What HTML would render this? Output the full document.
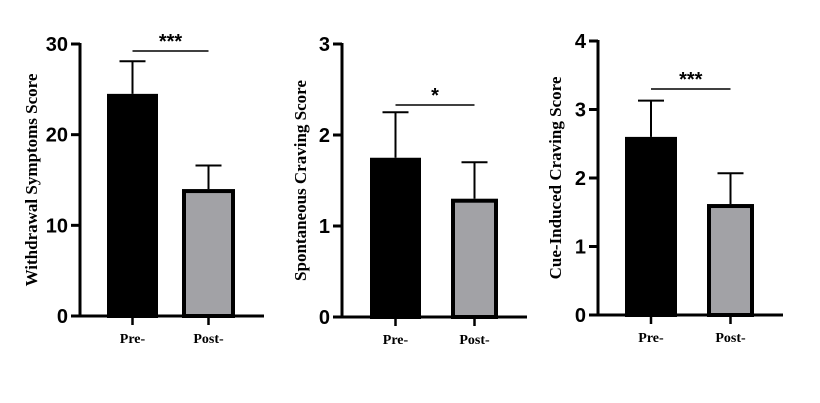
<!DOCTYPE html>
<html><head><meta charset="utf-8"><style>
html,body{margin:0;padding:0;background:#fff;width:820px;height:403px;overflow:hidden}
svg{display:block}
.tk{font-family:"Liberation Sans",Arial,sans-serif;font-weight:bold;font-size:20px}
.cat{font-family:"Liberation Serif",serif;font-weight:bold;font-size:14px}
.yt{font-family:"Liberation Serif",serif;font-weight:bold;font-size:17px}
.st{font-family:"Liberation Sans",sans-serif;font-weight:bold;font-size:20px}
</style></head><body>
<svg id="c" width="820" height="403"></svg>
<script>
const categories=["Pre-","Post-"];
const withdrawalMeans=[24.5,14];
const withdrawalErr=[3.6,2.6];
const withdrawalTicks=[0,10,20,30];
const spontMeans=[1.75,1.3];
const spontErr=[0.5,0.4];
const spontTicks=[0,1,2,3];
const cueMeans=[2.6,1.62];
const cueErr=[0.53,0.45];
const cueTicks=[0,1,2,3,4];
const panels=[
 {name:"withdrawal",title:"Withdrawal Symptoms Score",means:withdrawalMeans,err:withdrawalErr,ticks:withdrawalTicks,sig:"***",ax:80,axEnd:264,top:44,bot:316,titleX:31,bars:[[107,158],[182,235]],sigY:51},
 {name:"spontaneous",title:"Spontaneous Craving Score",means:spontMeans,err:spontErr,ticks:spontTicks,sig:"*",ax:342,axEnd:527,top:44,bot:317,titleX:300,bars:[[370,421],[451,498]],sigY:105},
 {name:"cue-induced",title:"Cue-Induced Craving Score",means:cueMeans,err:cueErr,ticks:cueTicks,sig:"***",ax:598,axEnd:783,top:41,bot:315,titleX:555,bars:[[625,677],[707,754]],sigY:89}
];
const svg=document.getElementById('c');const NS="http://www.w3.org/2000/svg";
function mk(t,a,p){const e=document.createElementNS(NS,t);for(const k in a)e.setAttribute(k,a[k]);(p||svg).appendChild(e);return e;}
panels.forEach(p=>{
 const g=mk('g',{});
 
 
 const max=p.ticks[p.ticks.length-1];
 const y=v=>p.bot-(v/max)*(p.bot-p.top);
 // bars
 p.means.forEach((m,i)=>{
  const [x0,x1]=p.bars[i];const cx=(x0+x1)/2;
  const e=mk('line',{x1:cx,x2:cx,y1:y(m),y2:y(m+p.err[i]),stroke:'#000','stroke-width':2},g);
  
  
  const cap=mk('line',{x1:cx-13,x2:cx+13,y1:y(m+p.err[i]),y2:y(m+p.err[i]),stroke:'#000','stroke-width':2},g);
  
  
  const r=mk('rect',{x:x0+2,y:y(m)+2,width:x1-x0-4,height:p.bot-y(m)-2,fill:i==0?'#000':'#a2a2a6',stroke:'#000','stroke-width':4},g);
  
  
  const tk=mk('line',{x1:cx,x2:cx,y1:p.bot,y2:p.bot+9,stroke:'#000','stroke-width':2.5},g);
  
  
  const t=mk('text',{x:cx,y:p.bot+27,'text-anchor':'middle',class:'cat'},g);t.textContent=categories[i];
  
  
 });
 // axes
 const ya=mk('line',{x1:p.ax,x2:p.ax,y1:p.top-1,y2:p.bot+1.5,stroke:'#000','stroke-width':3},g);
 
 
 const xa=mk('line',{x1:p.ax-1.5,x2:p.axEnd,y1:p.bot,y2:p.bot,stroke:'#000','stroke-width':3},g);
 
 
 p.ticks.forEach(v=>{
  const l=mk('line',{x1:p.ax-9,x2:p.ax,y1:y(v),y2:y(v),stroke:'#000','stroke-width':3},g);
  
  
  const t=mk('text',{x:p.ax-12,y:y(v)+7,'text-anchor':'end',class:'tk'},g);t.textContent=v;
  
  
 });
 const tt=mk('text',{x:0,y:0,'text-anchor':'middle',class:'yt',transform:`translate(${p.titleX+6},${(p.top+p.bot)/2}) rotate(-90)`},g);
 tt.textContent=p.title;
 
 
 const c0=(p.bars[0][0]+p.bars[0][1])/2,c1=(p.bars[1][0]+p.bars[1][1])/2;
 const sl=mk('line',{x1:c0,x2:c1,y1:p.sigY,y2:p.sigY,stroke:'#000','stroke-width':1.5},g);
 
 
 const st=mk('text',{x:(c0+c1)/2,y:p.sigY-3,'text-anchor':'middle',class:'st'},g);st.textContent=p.sig;
 
 
});
</script>
</body></html>
